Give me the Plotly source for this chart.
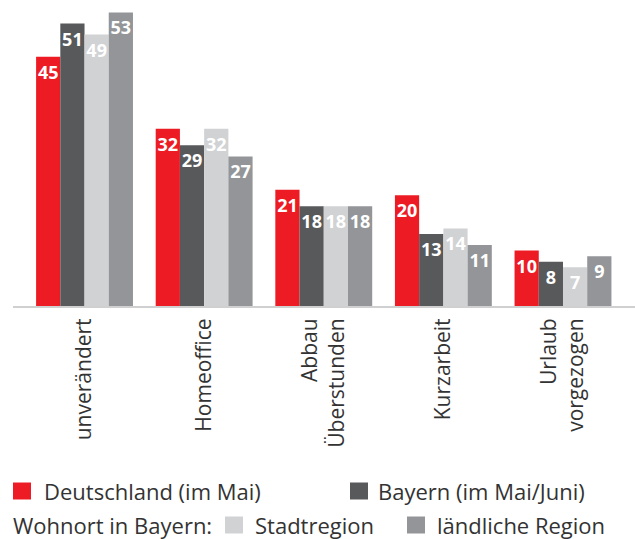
import plotly.graph_objects as go

categories = ["unverändert", "Homeoffice", "Abbau<br>Überstunden", "Kurzarbeit", "Urlaub<br>vorgezogen"]
series_names = ["Deutschland (im Mai)", "Bayern (im Mai/Juni)", "Stadtregion", "ländliche Region"]
deutschland = [45, 32, 21, 20, 10]
bayern = [51, 29, 18, 13, 8]
stadtregion = [49, 32, 18, 14, 7]
laendlich = [53, 27, 18, 11, 9]
colors = ["#ed1c24", "#58595b", "#d1d2d4", "#939598"]

FONT = "Open Sans"
TEXT_COLOR = "#333333"

W, H = 635, 539
L, R, T, B = 13, 0, 8, 233
PW, PH = W - L - R, H - T - B

def px(x):
    return (x - L) / PW

def py(y):
    return (H - B - y) / PH

fig = go.Figure()
for name, vals, col in zip(series_names, [deutschland, bayern, stadtregion, laendlich], colors):
    fig.add_trace(go.Bar(
        x=list(range(len(categories))), y=vals, name=name,
        marker=dict(color=col, line=dict(width=0)),
        text=[str(v) for v in vals], textposition="inside",
        insidetextanchor="end", textangle=0, constraintext="none",
        textfont=dict(family=FONT, size=18, color="white", weight="bold"),
        showlegend=False, hoverinfo="skip",
    ))

shapes = []
annotations = []
legend_items = [
    (0, 13, 491, 42), (1, 350, 491, 376), (2, 225, 525, 253), (3, 407, 525, 435)
]
for idx, sx, cy, tx in legend_items:
    shapes.append(dict(type="rect", xref="paper", yref="paper",
                       x0=px(sx), x1=px(sx + 18), y0=py(cy - 8.5), y1=py(cy + 8.5),
                       fillcolor=colors[idx], line=dict(width=0)))
    annotations.append(dict(xref="paper", yref="paper", x=px(tx), y=py(cy),
                            text=series_names[idx], showarrow=False,
                            xanchor="left", yanchor="middle",
                            font=dict(family=FONT, size=22, color=TEXT_COLOR)))
annotations.append(dict(xref="paper", yref="paper", x=px(11), y=py(525),
                        text="Wohnort in Bayern:", showarrow=False,
                        xanchor="left", yanchor="middle",
                        font=dict(family=FONT, size=22, color=TEXT_COLOR)))

fig.update_layout(
    width=W, height=H,
    margin=dict(l=L, r=R, t=T, b=B, pad=0),
    paper_bgcolor="white", plot_bgcolor="white",
    barmode="group", bargap=0.19, bargroupgap=0,
    font=dict(family=FONT, color=TEXT_COLOR),
    xaxis=dict(
        range=[-0.598, 4.602], tickmode="array",
        tickvals=list(range(len(categories))), ticktext=categories,
        tickangle=-90, ticks="", showgrid=False, zeroline=False,
        showline=True, linecolor="#d0d0d0", linewidth=2,
        tickfont=dict(family=FONT, size=21, color=TEXT_COLOR),
        ticklabelstandoff=2,
        fixedrange=True,
    ),
    yaxis=dict(range=[0, 53.8], visible=False, showgrid=False, zeroline=False, fixedrange=True),
    shapes=shapes, annotations=annotations,
)

fig.write_html("out.html", config={"displayModeBar": False},
               post_script="document.body.style.margin='0';document.body.style.padding='0';")
